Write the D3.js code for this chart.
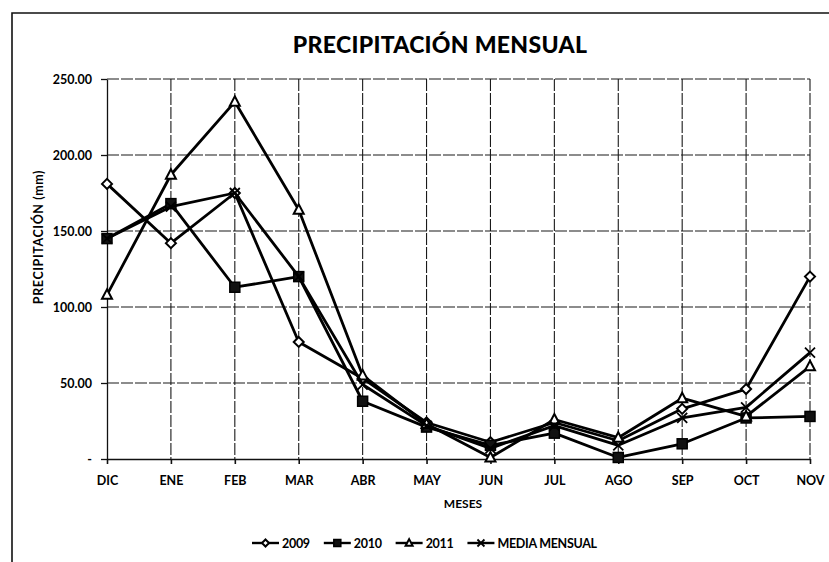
<!DOCTYPE html>
<html>
<head>
<meta charset="utf-8">
<script src="https://cdn.jsdelivr.net/npm/d3@7"></script>
<style>
  body { margin: 0; background: #fff; }
  svg { font-family: Lato, "Open Sans", sans-serif; }
  .grid line { stroke: #1a1a1a; stroke-width: 1.1; stroke-dasharray: 12,2; }
  .tick text { font-weight: bold; }
</style>
</head>
<body>
<div id="chart"></div>
<script>
var months = ["DIC", "ENE", "FEB", "MAR", "ABR", "MAY", "JUN", "JUL", "AGO", "SEP", "OCT", "NOV"];
var yTicks = [0, 50, 100, 150, 200, 250];

var s2009 = [181, 142, 175, 77, 53, 24, 11, 24, 12, 33, 46, 120];
var s2010 = [145, 168, 113, 120, 38, 21, 9, 17, 1, 10, 27, 28];
var s2011 = [108, 187, 235, 164, 55, 23, 1, 26, 14, 40, 28, 61];
var media = [145, 166, 175, 120, 49, 22, 7, 22, 9, 27, 34, 70];

var seriesNames = ["2009", "2010", "2011", "MEDIA MENSUAL"];
var seriesValues = [s2009, s2010, s2011, media];
var seriesMarkers = ["diamond", "square", "triangle", "cross"];

var width = 829, height = 562;
var plotLeft = 107, plotRight = 810, plotTop = 79, plotBottom = 459;

var svg = d3.select("#chart").append("svg")
  .attr("width", width)
  .attr("height", height);

// chart border (cropped scan: only top and left edges visible)
svg.append("path")
  .attr("d", "M12,562 L12,13 L829,13")
  .attr("fill", "none")
  .attr("stroke", "#111")
  .attr("stroke-width", 1.6);

var x = d3.scalePoint().domain(months).range([plotLeft, plotRight]);
var y = d3.scaleLinear().domain([0, 250]).range([plotBottom, plotTop]);

// gridlines
svg.append("g").attr("class", "grid")
  .selectAll("line").data(yTicks.slice(1)).enter().append("line")
  .attr("x1", plotLeft).attr("x2", plotRight)
  .attr("y1", function(d) { return y(d); })
  .attr("y2", function(d) { return y(d); });

svg.append("g").attr("class", "grid")
  .selectAll("line").data(months.slice(1)).enter().append("line")
  .attr("x1", function(d) { return x(d); })
  .attr("x2", function(d) { return x(d); })
  .attr("y1", plotTop).attr("y2", plotBottom);

// axes
var yAxis = d3.axisLeft(y)
  .tickValues(yTicks)
  .tickSize(6)
  .tickPadding(9)
  .tickSizeOuter(0)
  .tickFormat(function(d) { return d === 0 ? "-" : d3.format(".2f")(d); });

var gy = svg.append("g")
  .attr("transform", "translate(" + plotLeft + ",0)")
  .call(yAxis);
gy.selectAll("text").attr("font-size", 12.5).attr("fill", "#000").style("font-family", "Lato");
gy.selectAll("line, path").attr("stroke", "#111").attr("stroke-width", 1.3);

var xAxis = d3.axisBottom(x).tickSize(5).tickPadding(12).tickSizeOuter(0);
var gx = svg.append("g")
  .attr("transform", "translate(0," + plotBottom + ")")
  .call(xAxis);
gx.selectAll("text").attr("font-size", 12.5).attr("fill", "#000").style("font-family", "Lato");
gx.selectAll("line, path").attr("stroke", "#111").attr("stroke-width", 1.6);

// titles
svg.append("text")
  .attr("x", 440).attr("y", 53)
  .attr("text-anchor", "middle")
  .attr("font-size", 23)
  .attr("font-weight", "900")
  .attr("letter-spacing", 0.3)
  .text("PRECIPITACIÓN MENSUAL");

svg.append("text")
  .attr("x", 463).attr("y", 508)
  .attr("text-anchor", "middle")
  .attr("font-size", 12)
  .attr("font-weight", "bold")
  .text("MESES");

svg.append("text")
  .attr("transform", "translate(43,237) rotate(-90)")
  .attr("text-anchor", "middle")
  .attr("font-size", 12.5)
  .attr("font-weight", "bold")
  .attr("letter-spacing", 0.6)
  .text("PRECIPITACIÓN  (mm)");

// markers
function drawMarker(g, type, cx, cy, s) {
  if (type === "diamond") {
    g.append("path")
      .attr("d", "M" + cx + "," + (cy - s) + " L" + (cx + s) + "," + cy + " L" + cx + "," + (cy + s) + " L" + (cx - s) + "," + cy + "Z")
      .attr("fill", "#fff").attr("stroke", "#000").attr("stroke-width", 2);
  } else if (type === "square") {
    g.append("rect")
      .attr("x", cx - s).attr("y", cy - s).attr("width", 2 * s).attr("height", 2 * s)
      .attr("fill", "#111").attr("stroke", "#000").attr("stroke-width", 1.5);
  } else if (type === "triangle") {
    g.append("path")
      .attr("d", "M" + cx + "," + (cy - s * 1.1) + " L" + (cx + s) + "," + (cy + s * 0.8) + " L" + (cx - s) + "," + (cy + s * 0.8) + "Z")
      .attr("fill", "#fff").attr("stroke", "#000").attr("stroke-width", 2);
  } else {
    g.append("path")
      .attr("d", "M" + (cx - s) + "," + (cy - s) + " L" + (cx + s) + "," + (cy + s) + " M" + (cx - s) + "," + (cy + s) + " L" + (cx + s) + "," + (cy - s))
      .attr("fill", "none").attr("stroke", "#000").attr("stroke-width", 1.8);
  }
}

var line = d3.line()
  .x(function(d, i) { return x(months[i]); })
  .y(function(d) { return y(d); });

seriesValues.forEach(function(vals, k) {
  var g = svg.append("g");
  g.append("path")
    .datum(vals)
    .attr("d", line)
    .attr("fill", "none")
    .attr("stroke", "#000")
    .attr("stroke-width", 2.8)
    .attr("stroke-linejoin", "round");
  vals.forEach(function(v, i) {
    drawMarker(g, seriesMarkers[k], x(months[i]), y(v), 5);
  });
});

// legend
var legend = svg.append("g");
var lx = 252, ly = 543;
seriesNames.forEach(function(name, k) {
  var item = legend.append("g");
  item.append("line")
    .attr("x1", lx).attr("x2", lx + 27)
    .attr("y1", ly).attr("y2", ly)
    .attr("stroke", "#000").attr("stroke-width", 2.4);
  drawMarker(item, seriesMarkers[k], lx + 13.5, ly, 3.5);
  var t = item.append("text")
    .attr("x", lx + 30).attr("y", ly + 4.5)
    .attr("font-size", 12.5)
    .attr("font-weight", "bold")
    .attr("letter-spacing", -0.3)
    .text(name);
  lx += 30 + t.node().getComputedTextLength() + 14;
});
</script>
</body>
</html>
